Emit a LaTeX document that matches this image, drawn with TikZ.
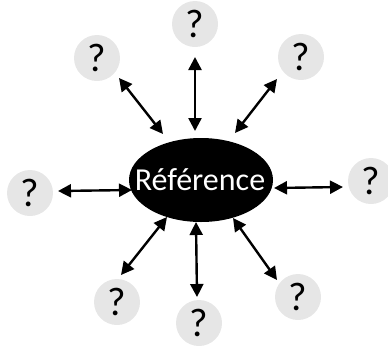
\documentclass[tikz,border=0pt]{standalone}
\usepackage{fontspec}
\setmainfont{Carlito}
\usetikzlibrary{arrows.meta,shapes.geometric}
\definecolor{qgray}{HTML}{E6E6E6}
\tikzset{
  qbox/.style={circle,fill=qgray,minimum size=46pt,inner sep=0pt,font=\fontsize{40}{40}\selectfont},
  refbox/.style={ellipse,fill=black,minimum width=144pt,minimum height=84pt,inner sep=0pt},
  reftext/.style={text=white,inner sep=0pt,font=\fontsize{32}{32}\selectfont},
  link/.style={line width=2.4pt,{Triangle[length=13pt,width=13pt]}-{Triangle[length=13pt,width=13pt]}}
}
\begin{document}
\begin{tikzpicture}[x=1pt,y=-1pt]
\useasboundingbox (0,0) rectangle (388,346);
\clip (0,0) rectangle (388,346);
\node[refbox] (ref) at (201,180) {};
\node[reftext] (reflabel) at (200,180) {Référence};
\node[qbox] (qt) at (195,24) {?};
\node[qbox] (qtl) at (97,58) {?};
\node[qbox] (qtr) at (301,57) {?};
\node[qbox] (ql) at (30,193) {?};
\node[qbox] (qr) at (371,181) {?};
\node[qbox] (qbl) at (117,302) {?};
\node[qbox] (qb) at (199,323) {?};
\node[qbox] (qbr) at (298,297) {?};
% arrow end points
\coordinate (at1) at (195,57);  \coordinate (at2) at (195,131);
\coordinate (atl1) at (119,78); \coordinate (atl2) at (163,134);
\coordinate (atr1) at (277,79); \coordinate (atr2) at (235,133);
\coordinate (al1) at (58,191);  \coordinate (al2) at (132,190);
\coordinate (ar1) at (274,188); \coordinate (ar2) at (343,187);
\coordinate (abl1) at (167,217); \coordinate (abl2) at (121,275);
\coordinate (ab1) at (196,222); \coordinate (ab2) at (197,297);
\coordinate (abr1) at (233,218); \coordinate (abr2) at (277,280);
\draw[link] (at1) -- (at2);
\draw[link] (atl1) -- (atl2);
\draw[link] (atr1) -- (atr2);
\draw[link] (al1) -- (al2);
\draw[link] (ar1) -- (ar2);
\draw[link] (abl1) -- (abl2);
\draw[link] (ab1) -- (ab2);
\draw[link] (abr1) -- (abr2);
\end{tikzpicture}
\end{document}
